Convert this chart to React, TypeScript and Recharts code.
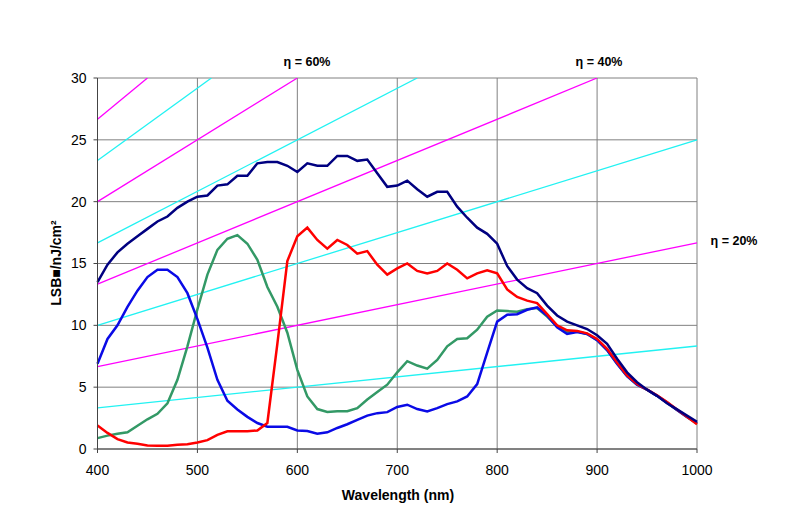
import { LineChart, Line, XAxis, YAxis, CartesianGrid } from 'recharts'

// wavelength grid of the measured curves (nm)
const wavelengths = [
  400, 410, 420, 430, 440, 450, 460, 470, 480, 490,
  500, 510, 520, 530, 540, 550, 560, 570, 580, 590,
  600, 610, 620, 630, 640, 650, 660, 670, 680, 690,
  700, 710, 720, 730, 740, 750, 760, 770, 780, 790,
  800, 810, 820, 830, 840, 850, 860, 870, 880, 890,
  900, 910, 920, 930, 940, 950, 960, 970, 980, 990, 1000,
]

// responsivity, LSB per nJ/cm²
const mono = [
  13.5, 14.9, 15.9, 16.6, 17.2, 17.8, 18.4, 18.8, 19.5, 20.0,
  20.4, 20.5, 21.3, 21.4, 22.1, 22.1, 23.1, 23.2, 23.2, 22.9,
  22.4, 23.1, 22.9, 22.9, 23.7, 23.7, 23.3, 23.4, 22.3, 21.2,
  21.3, 21.7, 21.0, 20.4, 20.8, 20.8, 19.6, 18.7, 17.9, 17.4,
  16.6, 14.8, 13.7, 13.0, 12.6, 11.6, 10.8, 10.3, 10.0, 9.7,
  9.2, 8.5, 7.3, 6.2, 5.4, 4.8, 4.3, 3.7, 3.2, 2.7, 2.2,
]
const red = [
  1.9, 1.3, 0.8, 0.53, 0.43, 0.28, 0.27, 0.27, 0.35, 0.38,
  0.52, 0.72, 1.15, 1.43, 1.43, 1.43, 1.5, 2.1, 8.5, 15.2,
  17.2, 17.9, 16.9, 16.2, 16.9, 16.5, 15.8, 16.0, 14.9, 14.1,
  14.6, 15.0, 14.4, 14.2, 14.4, 15.0, 14.5, 13.8, 14.2, 14.45,
  14.2, 12.9, 12.3, 12.0, 11.8, 10.9, 10.0, 9.6, 9.55, 9.35,
  8.9, 8.1, 7.0, 5.95, 5.25, 4.8, 4.35, 3.8, 3.2, 2.6, 2.0,
]
const green = [
  0.88, 1.08, 1.24, 1.35, 1.88, 2.4, 2.85, 3.7, 5.6, 8.3,
  11.3, 14.1, 16.1, 17.0, 17.3, 16.6, 15.3, 13.1, 11.5, 9.4,
  6.4, 4.25, 3.23, 3.0, 3.05, 3.05, 3.3, 4.0, 4.6, 5.2,
  6.2, 7.1, 6.75, 6.5, 7.2, 8.3, 8.9, 8.95, 9.65, 10.7,
  11.2, 11.15, 11.1, 11.3, 11.4, 10.7, 9.9, 9.45, 9.5, 9.3,
  8.8, 8.0, 6.9, 5.9, 5.2, 4.8, 4.3, 3.75, 3.15, 2.6, 2.05,
]
const blue = [
  6.9, 8.9, 10.0, 11.5, 12.8, 13.9, 14.5, 14.5, 13.9, 12.6,
  10.5, 8.2, 5.6, 3.9, 3.2, 2.6, 2.1, 1.8, 1.8, 1.8,
  1.5, 1.45, 1.24, 1.35, 1.7, 2.0, 2.35, 2.7, 2.9, 2.98,
  3.4, 3.58, 3.23, 3.04, 3.3, 3.63, 3.85, 4.25, 5.25, 7.8,
  10.3, 10.86, 10.9, 11.26, 11.45, 10.8, 9.85, 9.3, 9.45, 9.3,
  8.8, 8.0, 6.9, 5.9, 5.2, 4.8, 4.3, 3.75, 3.15, 2.6, 2.1,
]

// constant quantum-efficiency reference lines (start / end points)
const qe10 = [{ x: 400, v: 3.33 }, { x: 1000, v: 8.33 }]
const qe20 = [{ x: 400, v: 6.67 }, { x: 1000, v: 16.67 }]
const qe30 = [{ x: 400, v: 10 }, { x: 1000, v: 25 }]
const qe40 = [{ x: 400, v: 13.33 }, { x: 900, v: 30 }]
const qe50 = [{ x: 400, v: 16.67 }, { x: 720, v: 30 }]
const qe60 = [{ x: 400, v: 20 }, { x: 600, v: 30 }]
const qe70 = [{ x: 400, v: 23.33 }, { x: 514, v: 30 }]
const qe80 = [{ x: 400, v: 26.67 }, { x: 450, v: 30 }]

const xTicks = [400, 500, 600, 700, 800, 900, 1000]
const yTicks = [0, 5, 10, 15, 20, 25, 30]

const rows = wavelengths.map((x, i) => ({
  x, mono: mono[i], red: red[i], green: green[i], blue: blue[i],
}))

const FONT = '"Liberation Sans", Arial, sans-serif'
const MAGENTA = '#ff00ff'
const CYAN = '#22f2f2'

const tickStyle = { fontSize: 14, fill: '#000', fontFamily: FONT }
const noteStyle: React.CSSProperties = {
  position: 'absolute', fontFamily: FONT, fontWeight: 'bold', fontSize: 12.5,
  whiteSpace: 'nowrap', transform: 'translate(-50%, -50%)', color: '#000',
}

export default function App() {
  const qeLine = (data: { x: number; v: number }[], color: string, key: string) => (
    <Line key={key} data={data} dataKey="v" type="linear" stroke={color} strokeWidth={1.3}
      dot={false} activeDot={false} isAnimationActive={false} />
  )

  return (
    <div style={{ position: 'absolute', left: 0, top: 0, width: 790, height: 511, background: '#fff' }}>
      <LineChart width={790} height={511} data={rows}
        margin={{ top: 78, right: 93, left: 0, bottom: 0 }}>
        <CartesianGrid stroke="#808080" strokeWidth={1} horizontalValues={yTicks} verticalValues={xTicks} />
        <XAxis dataKey="x" type="number" domain={[400, 1000]} ticks={xTicks} height={62}
          tick={tickStyle} tickSize={4} tickMargin={12}
          axisLine={{ stroke: '#444' }} tickLine={{ stroke: '#444' }} />
        <YAxis type="number" domain={[0, 30]} ticks={yTicks} width={97.5}
          tick={tickStyle} tickSize={4} tickMargin={7} allowDataOverflow
          axisLine={{ stroke: '#444' }} tickLine={{ stroke: '#444' }} />

        {qeLine(qe10, CYAN, 'q10')}
        {qeLine(qe20, MAGENTA, 'q20')}
        {qeLine(qe30, CYAN, 'q30')}
        {qeLine(qe40, MAGENTA, 'q40')}
        {qeLine(qe50, CYAN, 'q50')}
        {qeLine(qe60, MAGENTA, 'q60')}
        {qeLine(qe70, CYAN, 'q70')}
        {qeLine(qe80, MAGENTA, 'q80')}

        <Line dataKey="green" type="linear" stroke="#339966" strokeWidth={2.5} dot={false} isAnimationActive={false} />
        <Line dataKey="blue" type="linear" stroke="#0a0ae6" strokeWidth={2.5} dot={false} isAnimationActive={false} />
        <Line dataKey="red" type="linear" stroke="#ff0000" strokeWidth={2.5} dot={false} isAnimationActive={false} />
        <Line dataKey="mono" type="linear" stroke="#000080" strokeWidth={2.5} dot={false} isAnimationActive={false} />
      </LineChart>

      <div style={{ ...noteStyle, left: 307, top: 62 }}>η = 60%</div>
      <div style={{ ...noteStyle, left: 599, top: 62 }}>η = 40%</div>
      <div style={{ ...noteStyle, left: 734, top: 241 }}>η = 20%</div>

      <div style={{
        position: 'absolute', left: 56, top: 263, fontFamily: FONT, fontWeight: 'bold', fontSize: 14,
        whiteSpace: 'nowrap', transform: 'translate(-50%, -50%) rotate(-90deg)',
      }}>LSB■/nJ/cm²</div>
      <div style={{
        position: 'absolute', left: 398, top: 495, fontFamily: FONT, fontWeight: 'bold', fontSize: 14,
        whiteSpace: 'nowrap', transform: 'translate(-50%, -50%)',
      }}>Wavelength (nm)</div>
    </div>
  )
}
